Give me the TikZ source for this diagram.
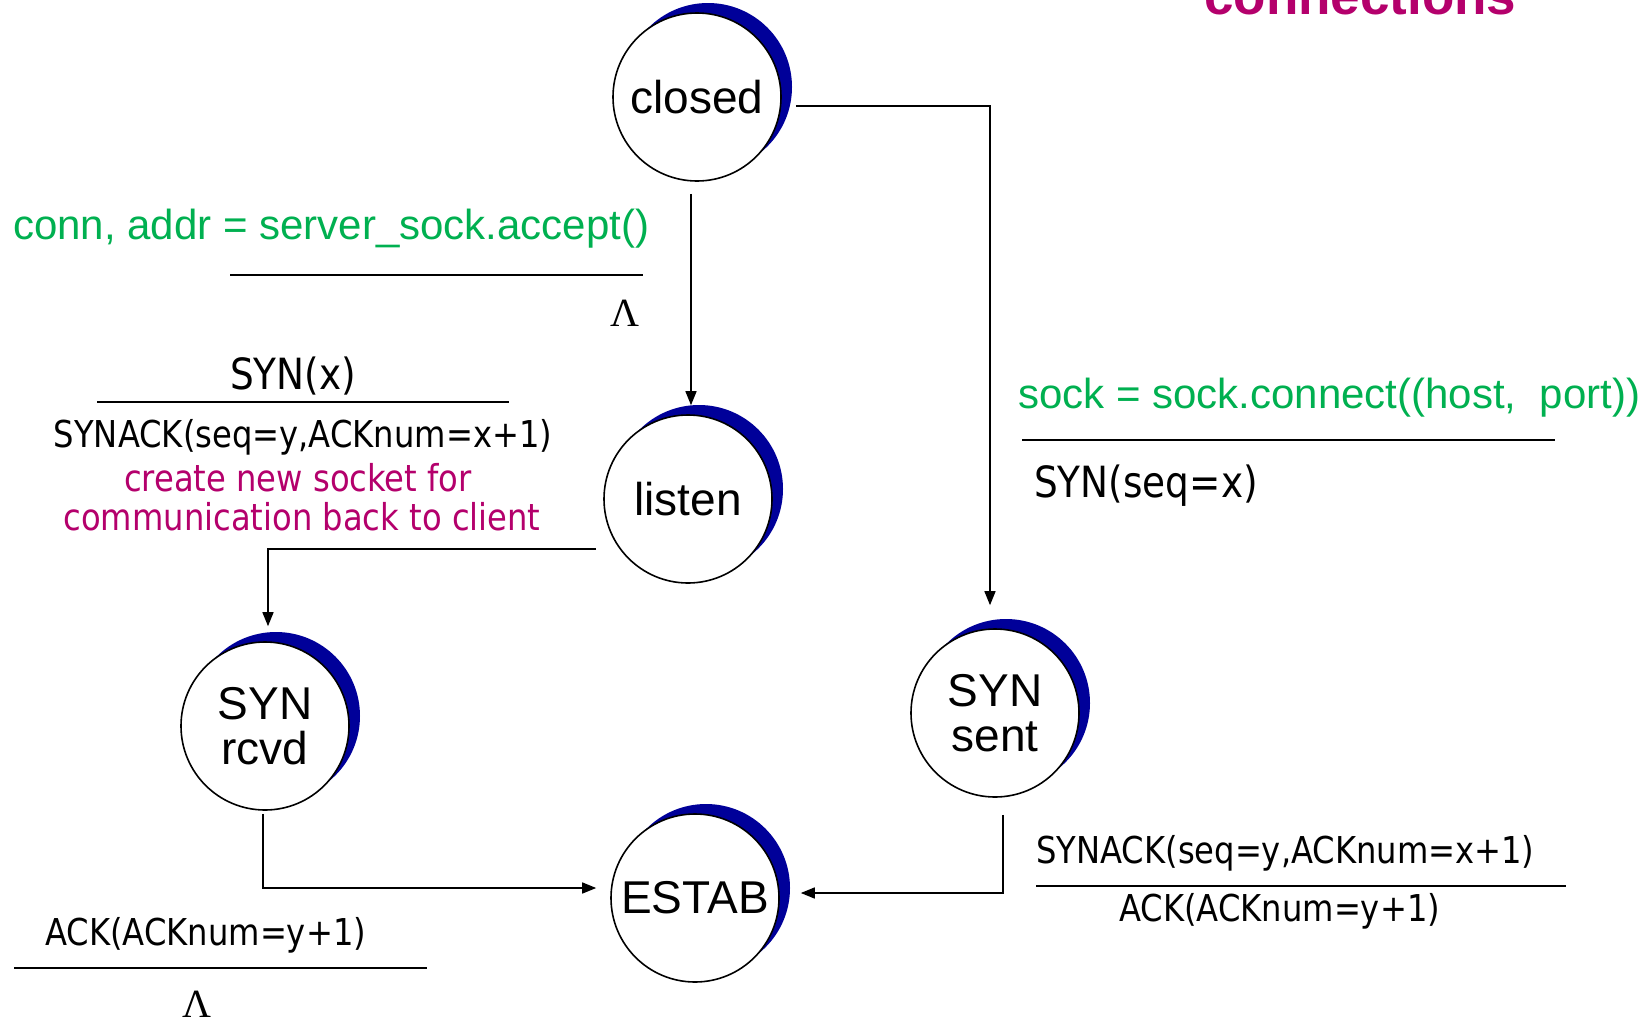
\documentclass[tikz,border=0pt]{standalone}
\usepackage{fontspec}
\setmainfont{Liberation Sans}
\newfontfamily\tah[FakeStretch=0.87]{DejaVu Sans}
\newfontfamily\lserif{Liberation Serif}
\usetikzlibrary{shapes.geometric,shadows,arrows.meta}
\definecolor{pygreen}{HTML}{00B050}
\definecolor{magen}{HTML}{B4006C}
\definecolor{navyblue}{HTML}{000099}
\begin{document}
\begin{tikzpicture}[x=1pt,y=-1pt,
  state/.style={circle, draw=black, line width=1.6pt, fill=white,
    minimum size=168pt, inner sep=0pt, align=center,
    font=\fontsize{46}{45}\selectfont,
    general shadow={fill=navyblue, shadow xshift=11pt, shadow yshift=10pt}},
  arr/.style={line width=1.5pt, -{Triangle[length=14pt,width=11pt]}},
  uline/.style={line width=1.6pt},
  grtxt/.style={inner sep=0pt, anchor=west, text=pygreen, font=\fontsize{42}{48}\selectfont},
  tahtxt/.style={inner sep=0pt, font=\tah\fontsize{37}{42}\selectfont},
  tahbig/.style={inner sep=0pt, font=\tah\fontsize{43}{48}\selectfont},
  magtxt/.style={inner sep=0pt, text=magen, font=\tah\fontsize{37}{42}\selectfont},
  lamtxt/.style={inner sep=0pt, font=\lserif\fontsize{40}{44}\selectfont}
]
\clip (0,0) rectangle (1652,1020);
\fill[white] (0,0) rectangle (1652,1020);

% heading (cut off at top)
\node[inner sep=0pt, anchor=base west, text=magen, font=\bfseries\fontsize{53}{60}\selectfont] (heading) at (1204,14) {connections};

% states
\node[state] (closed) at (697,97) {closed};
\node[state] (listen) at (688,499) {listen};
\node[state] (rcvd) at (265,726) {SYN\\rcvd};
\node[state] (sent) at (995,713) {SYN\\sent};
\node[state] (estab) at (695,898) {ESTAB};

% connectors
\draw[arr] ([shift={(-6,12)}]closed.south) -- ([shift={(3,-9)}]listen.north);
\draw[arr] ([shift={(14,9)}]closed.east) -| ([shift={(-5,-23)}]sent.north);
\draw[arr] ([shift={(-7,50)}]listen.west) -| ([shift={(3,-15)}]rcvd.north);
\draw[arr] ([shift={(-2,3)}]rcvd.south) |- ([shift={(-14,-10)}]estab.west);
\draw[arr] ([shift={(8,17)}]sent.south) |- ([shift={(21,-5)}]estab.east);

% labels: closed -> listen
\node[grtxt] (accept) at (13,229) {conn, addr = server\_sock.accept()};
\draw[uline] (230,275) -- (643,275);
\node[lamtxt] (lam1) at (625,313) {Λ};

% labels: listen -> SYN rcvd
\node[tahbig] (synx) at (293,376) {SYN(x)};
\draw[uline] (97,402) -- (509,402);
\node[tahtxt] (synack1) at (303,437) {SYNACK(seq=y,ACKnum=x+1)};
\node[magtxt] (create) at (298,478) {create new socket for};
\node[magtxt] (comm) at (302,517) {communication back to client};

% labels: closed -> SYN sent
\node[grtxt] (connect) at (1018,398) {sock = sock.connect((host,\ \ port))};
\draw[uline] (1022,440) -- (1555,440);
\node[tahbig, anchor=west] (synseq) at (1034,486) {SYN(seq=x)};

% labels: SYN sent -> ESTAB
\node[tahtxt, anchor=west] (synack2) at (1036,853) {SYNACK(seq=y,ACKnum=x+1)};
\draw[uline] (1036,886) -- (1566,886);
\node[tahtxt, anchor=west] (ack2) at (1119,911) {ACK(ACKnum=y+1)};

% labels: SYN rcvd -> ESTAB
\node[tahtxt, anchor=west] (ack1) at (45,935) {ACK(ACKnum=y+1)};
\draw[uline] (14,968) -- (427,968);
\node[lamtxt] (lam2) at (197,1004) {Λ};
\end{tikzpicture}
\end{document}
